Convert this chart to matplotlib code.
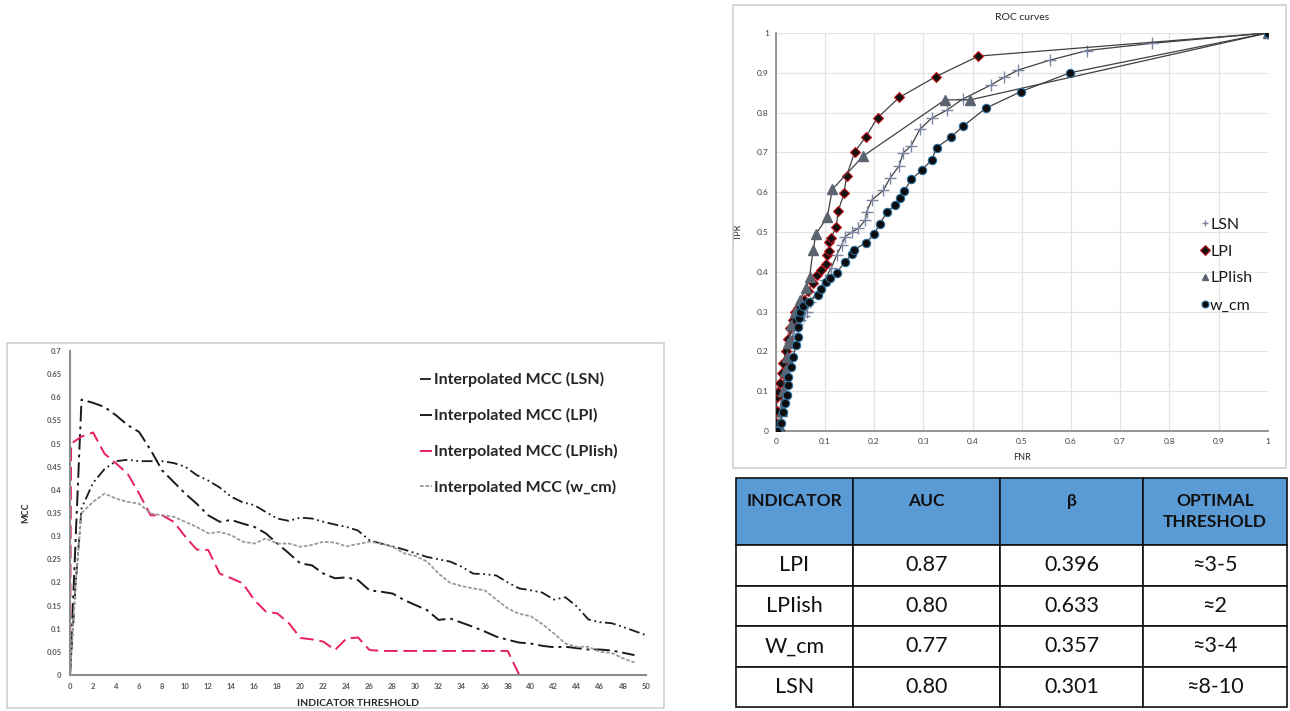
import matplotlib
matplotlib.use('Agg')
import matplotlib.pyplot as plt
from matplotlib.patches import Rectangle
from matplotlib.ticker import FuncFormatter, MultipleLocator

plt.rcParams['font.family'] = ['Lato', 'DejaVu Sans']

# --- MCC vs indicator threshold ---
lsn_x = [0, 0.5] + list(range(1, 51))
lsn_mcc = [0, 0.2,
           0.36, 0.415, 0.445, 0.462, 0.465, 0.462, 0.462, 0.462, 0.458, 0.45,
           0.432, 0.42, 0.405, 0.385, 0.373, 0.367, 0.352, 0.338, 0.333, 0.34,
           0.338, 0.331, 0.325, 0.32, 0.312, 0.291, 0.284, 0.278, 0.271, 0.263,
           0.255, 0.25, 0.245, 0.234, 0.219, 0.218, 0.215, 0.2, 0.187, 0.183,
           0.178, 0.163, 0.168, 0.148, 0.12, 0.114, 0.112, 0.104, 0.095, 0.086]

lpi_x = [0, 0.5] + list(range(1, 50))
lpi_mcc = [0, 0.3,
           0.595, 0.588, 0.579, 0.561, 0.54, 0.525, 0.486, 0.442, 0.417, 0.392,
           0.37, 0.345, 0.331, 0.335, 0.327, 0.32, 0.306, 0.284, 0.263, 0.241,
           0.237, 0.219, 0.209, 0.211, 0.205, 0.183, 0.18, 0.176, 0.162, 0.151,
           0.14, 0.119, 0.122, 0.113, 0.104, 0.094, 0.083, 0.076, 0.07, 0.068,
           0.063, 0.06, 0.061, 0.058, 0.055, 0.055, 0.053, 0.048, 0.043]

lpiish_x = [0, 0.1] + list(range(1, 50))
lpiish_mcc = [0, 0.5,
              0.515, 0.524, 0.478, 0.457, 0.435, 0.392, 0.345, 0.345, 0.331, 0.299,
              0.271, 0.27, 0.219, 0.209, 0.198, 0.162, 0.137, 0.133, 0.112, 0.08,
              0.077, 0.072, 0.054, 0.079, 0.081, 0.054, 0.052, 0.052, 0.052, 0.052,
              0.052, 0.052, 0.052, 0.052, 0.052, 0.052, 0.052, 0.052, 0, 0,
              0, 0, 0, 0, 0, 0, 0, 0, 0]

wcm_x = [0, 0.5] + list(range(1, 50))
wcm_mcc = [0, 0.2,
           0.35, 0.374, 0.392, 0.381, 0.374, 0.37, 0.349, 0.345, 0.342, 0.331,
           0.32, 0.306, 0.309, 0.302, 0.288, 0.284, 0.295, 0.284, 0.284, 0.277,
           0.281, 0.288, 0.286, 0.278, 0.283, 0.288, 0.284, 0.277, 0.263, 0.257,
           0.245, 0.219, 0.199, 0.192, 0.187, 0.183, 0.163, 0.144, 0.132, 0.127,
           0.11, 0.09, 0.068, 0.061, 0.061, 0.05, 0.048, 0.036, 0.027]

# --- ROC curves ---
lsn_fnr = [0, 0.005, 0.008, 0.012, 0.015, 0.018, 0.022, 0.026, 0.03, 0.036,
           0.043, 0.05, 0.058, 0.063, 0.07, 0.085, 0.1, 0.113, 0.124, 0.134,
           0.141, 0.155, 0.168, 0.182, 0.185, 0.195, 0.219, 0.232, 0.251, 0.259,
           0.275, 0.293, 0.317, 0.349, 0.38, 0.437, 0.465, 0.493, 0.558, 0.633,
           0.764, 1.0]
lsn_tpr = [0, 0.02, 0.05, 0.08, 0.11, 0.14, 0.17, 0.2, 0.22, 0.245,
           0.27, 0.28, 0.29, 0.3, 0.325, 0.35, 0.38, 0.41, 0.442, 0.467,
           0.488, 0.5, 0.509, 0.53, 0.551, 0.58, 0.605, 0.635, 0.666, 0.699,
           0.716, 0.758, 0.786, 0.807, 0.834, 0.869, 0.889, 0.907, 0.932, 0.956,
           0.974, 1.0]

lpi_fnr = [0, 0.001, 0.002, 0.002, 0.005, 0.009, 0.012, 0.015, 0.02, 0.025,
           0.03, 0.035, 0.04, 0.045, 0.052, 0.058, 0.066, 0.075, 0.083, 0.093,
           0.102, 0.105, 0.109, 0.109, 0.112, 0.123, 0.127, 0.139, 0.144, 0.161,
           0.183, 0.207, 0.251, 0.325, 0.412, 1.0]
lpi_tpr = [0, 0.02, 0.05, 0.086, 0.099, 0.12, 0.145, 0.17, 0.2, 0.23,
           0.26, 0.28, 0.3, 0.31, 0.321, 0.329, 0.352, 0.372, 0.392, 0.405,
           0.419, 0.442, 0.453, 0.476, 0.484, 0.513, 0.553, 0.597, 0.641, 0.702,
           0.739, 0.787, 0.838, 0.89, 0.942, 1.0]

lpiish_fnr = [0, 0.009, 0.012, 0.015, 0.019, 0.022, 0.026, 0.029, 0.032, 0.039,
              0.05, 0.062, 0.069, 0.076, 0.082, 0.105, 0.115, 0.178, 0.344, 0.395, 1.0]
lpiish_tpr = [0, 0.011, 0.05, 0.1, 0.15, 0.187, 0.22, 0.229, 0.266, 0.3,
              0.33, 0.36, 0.388, 0.455, 0.495, 0.538, 0.607, 0.691, 0.832, 0.832, 1.0]

wcm_fnr = [0, 0.002, 0.01, 0.015, 0.019, 0.022, 0.024, 0.026, 0.032, 0.036,
           0.041, 0.046, 0.046, 0.048, 0.049, 0.056, 0.068, 0.085, 0.093, 0.103,
           0.11, 0.124, 0.141, 0.156, 0.159, 0.183, 0.2, 0.211, 0.226, 0.242,
           0.252, 0.261, 0.276, 0.297, 0.317, 0.327, 0.356, 0.381, 0.427, 0.499,
           0.598, 1.0]
wcm_tpr = [0, 0, 0.019, 0.048, 0.07, 0.09, 0.116, 0.136, 0.162, 0.187,
           0.216, 0.237, 0.262, 0.283, 0.3, 0.314, 0.325, 0.342, 0.356, 0.375,
           0.384, 0.398, 0.425, 0.445, 0.455, 0.473, 0.494, 0.52, 0.549, 0.568,
           0.585, 0.603, 0.632, 0.656, 0.681, 0.712, 0.738, 0.766, 0.811, 0.853,
           0.9, 1.0]

# --- summary table ---
table_header = ['INDICATOR', 'AUC', 'β', 'OPTIMAL\nTHRESHOLD']
indicators = ['LPI', 'LPIish', 'W_cm', 'LSN']
auc = ['0.87', '0.80', '0.77', '0.80']
beta = ['0.396', '0.633', '0.357', '0.301']
opt_threshold = ['≈3-5', '≈2', '≈3-4', '≈8-10']

W, H = 1290, 711
fig = plt.figure(figsize=(W / 100, H / 100), dpi=100)
fig.patch.set_facecolor('white')


def fig_rect(x0, y0, x1, y1):
    # pixel box (top-left origin) -> figure fraction [l, b, w, h]
    return [x0 / W, 1 - y1 / H, (x1 - x0) / W, (y1 - y0) / H]


# frames around the two charts
for box in [(7, 343, 664, 708), (733, 5, 1286, 468)]:
    l, b, w, h = fig_rect(*box)
    fig.patches.append(Rectangle((l, b), w, h, transform=fig.transFigure,
                                 fill=False, edgecolor='#cfcfcf', lw=1.2))

axis_gray = '#8c8c8c'
tick_gray = '#595959'

# ---------------- MCC chart ----------------
ax = fig.add_axes(fig_rect(70, 351, 646, 675))
ax.plot(lsn_x, lsn_mcc, color='#1a1a1a', lw=1.3, ls=(0, (6, 2, 1, 2, 1, 2)),
        label='Interpolated MCC (LSN)')
ax.plot(lpi_x, lpi_mcc, color='#1a1a1a', lw=1.4, ls=(0, (8, 2.5, 1.5, 2.5)),
        label='Interpolated MCC (LPI)')
ax.plot(lpiish_x, lpiish_mcc, color='#e8205a', lw=1.4, ls=(0, (7, 3)),
        label='Interpolated MCC (LPIish)')
ax.plot(wcm_x, wcm_mcc, color='#9a9a9a', lw=1.3, ls=(0, (2, 1)),
        label='Interpolated MCC (w_cm)')
ax.set_xlim(0, 50)
ax.set_ylim(0, 0.7)
ax.xaxis.set_major_locator(MultipleLocator(2))
ax.yaxis.set_major_locator(MultipleLocator(0.05))
ax.yaxis.set_major_formatter(FuncFormatter(lambda v, p: '%g' % round(v, 2)))
ax.tick_params(length=0, labelsize=5.5, colors=tick_gray, pad=6)
for t in ax.get_xticklabels() + ax.get_yticklabels():
    t.set_fontweight('bold')
for s in ['top', 'right']:
    ax.spines[s].set_visible(False)
for s in ['left', 'bottom']:
    ax.spines[s].set_color(axis_gray)
    ax.spines[s].set_linewidth(1.5)
ax.set_xlabel('INDICATOR THRESHOLD', fontsize=7.5, fontweight='bold', color='#262626', labelpad=6)
ax.set_ylabel('MCC', fontsize=6.5, fontweight='bold', color='#262626', labelpad=12)
leg = ax.legend(loc='upper left', bbox_to_anchor=(406 / W, 1 - 358 / H),
                bbox_transform=fig.transFigure, frameon=False,
                prop={'size': 11.5, 'weight': 'bold'}, handlelength=0.7,
                handletextpad=0.15, labelspacing=1.3)
for t in leg.get_texts():
    t.set_color('#262626')

# ---------------- ROC chart ----------------
ar = fig.add_axes(fig_rect(775.7, 33, 1267.7, 431))
ar.plot(lsn_fnr, lsn_tpr, color='#404040', lw=0.9, marker='+', ms=9, mew=1.0,
        mec='#7c87a6', label='LSN', zorder=3)
ar.plot(lpi_fnr, lpi_tpr, color='#404040', lw=0.9, marker='D', ms=5.5, mew=0.8,
        mfc='#111111', mec='#c0141e', label='LPI', zorder=3)
ar.plot(lpiish_fnr, lpiish_tpr, color='#404040', lw=0.9, marker='^', ms=7.5,
        mfc='#5c6370', mec='#5c6370', label='LPIish', zorder=3)
ar.plot(wcm_fnr, wcm_tpr, color='#404040', lw=0.9, marker='o', ms=6, mew=0.8,
        mfc='#0d0d0d', mec='#2a6f9e', label='w_cm', zorder=3)
ar.set_xlim(0, 1)
ar.set_ylim(0, 1)
ar.xaxis.set_major_locator(MultipleLocator(0.1))
ar.yaxis.set_major_locator(MultipleLocator(0.1))
fmt = FuncFormatter(lambda v, p: '%g' % round(v, 1))
ar.xaxis.set_major_formatter(fmt)
ar.yaxis.set_major_formatter(fmt)
ar.grid(True, color='#e3e3e3', lw=0.9)
ar.set_axisbelow(True)
ar.tick_params(length=0, labelsize=6, colors='#404040', pad=5)
for s in ['top', 'right']:
    ar.spines[s].set_visible(False)
for s in ['left', 'bottom']:
    ar.spines[s].set_color(axis_gray)
    ar.spines[s].set_linewidth(1.3)
ar.set_title('ROC curves', fontsize=7.5, color='#262626', pad=9)
ar.set_xlabel('FNR', fontsize=6.5, color='#262626', labelpad=6)
ar.set_ylabel('TPR', fontsize=6.5, color='#262626', labelpad=10)
rleg = ar.legend(loc='upper left', bbox_to_anchor=(1191 / W, 1 - 203 / H),
                 bbox_transform=fig.transFigure, frameon=False,
                 prop={'size': 11.5}, handlelength=0, handletextpad=0.3,
                 labelspacing=0.8)
for h in rleg.legend_handles:
    h.set_markersize(5)
for t in rleg.get_texts():
    t.set_color('#1a1a1a')

# ---------------- table ----------------
at = fig.add_axes(fig_rect(736, 478, 1287, 707))
at.axis('off')
rows = [list(r) for r in zip(indicators, auc, beta, opt_threshold)]
# single-line headers sit on the first line of the two-line one
shown_header = [h if '\n' in h else h + '\n ' for h in table_header]
tbl = at.table(cellText=rows, colLabels=shown_header, cellLoc='center',
               bbox=[0, 0, 1, 1])
tbl.auto_set_font_size(False)
col_w = [117, 147, 143, 144]
for (r, c), cell in tbl.get_celld().items():
    cell.set_width(col_w[c])
    cell.set_edgecolor('#111111')
    cell.set_linewidth(1.2)
    if r == 0:
        cell.set_height(67)
        cell.set_facecolor('#5b9bd5')
        cell.get_text().set_fontsize(12.5)
        cell.get_text().set_fontweight('bold')
        cell.get_text().set_color('#111111')
        cell.get_text().set_linespacing(1.35)
    else:
        cell.set_height(40.5)
        cell.get_text().set_fontsize(15.5)
        cell.get_text().set_color('#111111')

fig.savefig('out.png', dpi=100, facecolor='white')
